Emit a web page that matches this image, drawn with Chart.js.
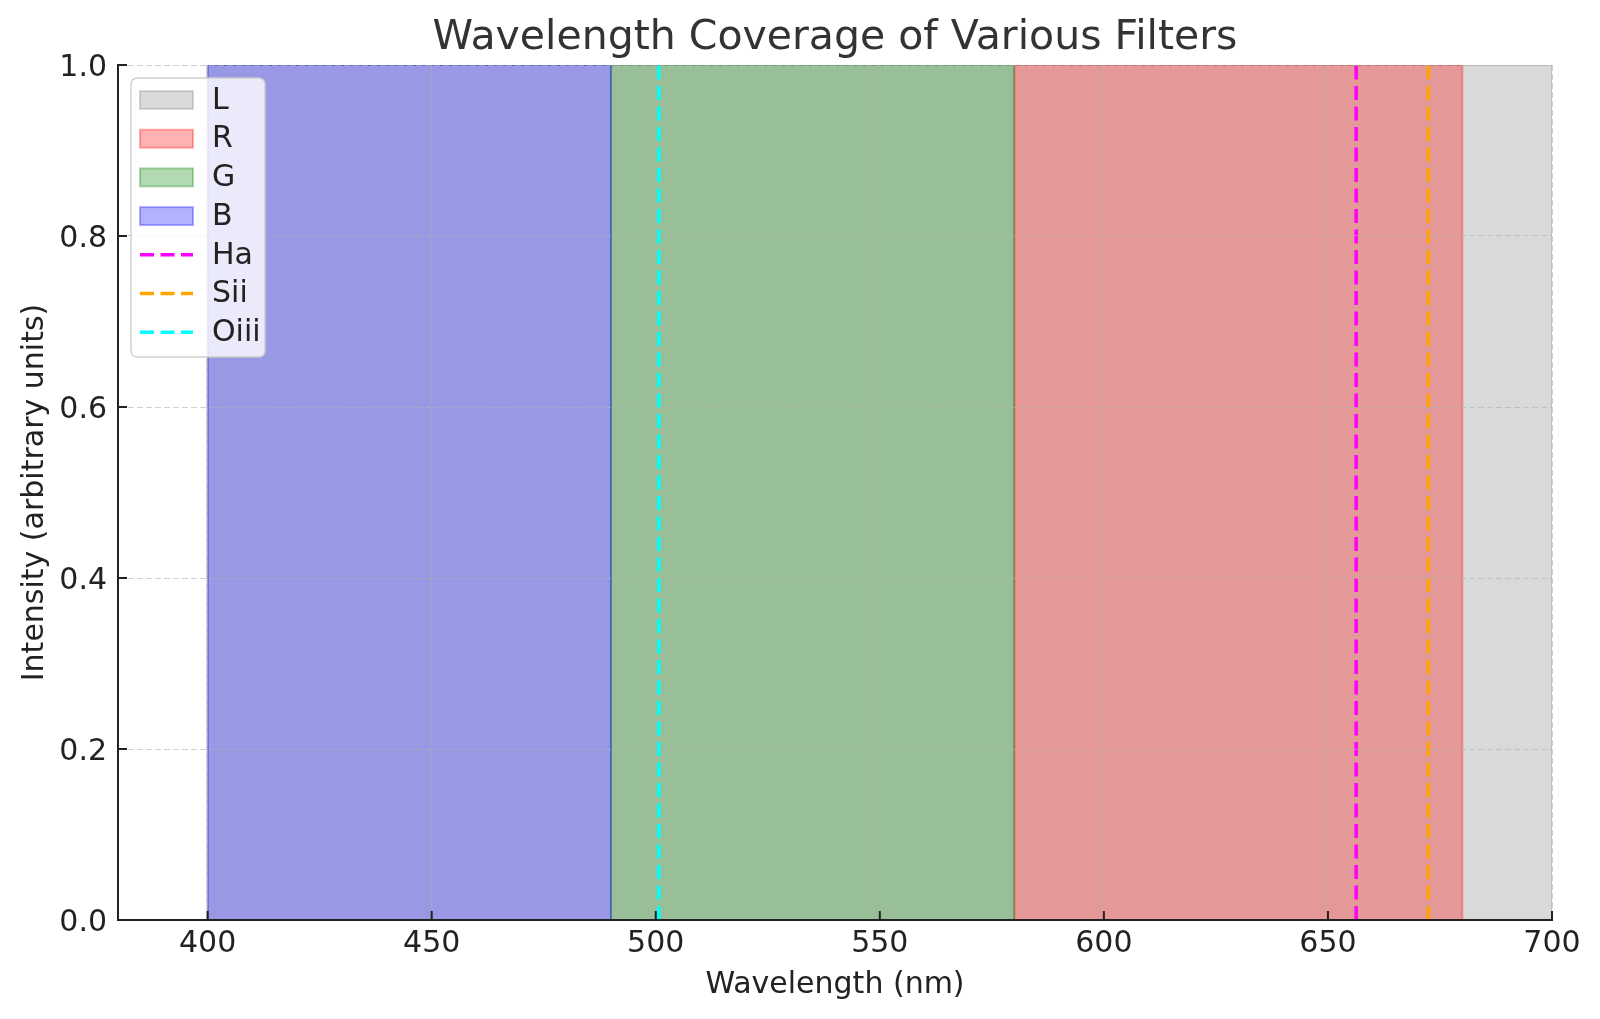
<!DOCTYPE html>
<html>
<head>
<meta charset="utf-8">
<title>Wavelength Coverage of Various Filters</title>
<script src="https://cdn.jsdelivr.net/npm/chart.js@4.4.0/dist/chart.umd.js"></script>
<style>
  html, body { margin: 0; padding: 0; background: #fff; }
  #wrap { width: 1600px; height: 1019px; }
</style>
</head>
<body>
<div id="wrap"><canvas id="chart" width="1600" height="1019"></canvas></div>
<script>
// filter pass bands (nm)
const filterNames = ['L', 'R', 'G', 'B'];
const filterStart = [400, 580, 490, 400];
const filterEnd = [700, 680, 580, 490];
const filterLevel = [1, 1, 1, 1];

// emission lines (nm)
const lineNames = ['Ha', 'Sii', 'Oiii'];
const lineWavelengths = [656.3, 672.4, 500.7];

const xTicks = [400, 450, 500, 550, 600, 650, 700];
const yTicks = [0, 0.2, 0.4, 0.6, 0.8, 1.0];

const filterRgb = ['128, 128, 128', '255, 0, 0', '0, 128, 0', '0, 0, 255'];
const lineColors = ['#ff00ff', '#ffa500', '#00ffff'];

Chart.defaults.font.family = '"DejaVu Sans", sans-serif';
Chart.defaults.color = '#222';

const datasets = [];
filterNames.forEach((name, i) => {
    datasets.push({
        label: name,
        kind: 'band',
        data: [
            { x: filterStart[i], y: 0 },
            { x: filterStart[i], y: filterLevel[i] },
            { x: filterEnd[i], y: filterLevel[i] },
            { x: filterEnd[i], y: 0 }
        ],
        fill: 'origin',
        backgroundColor: `rgba(${filterRgb[i]}, 0.3)`,
        borderColor: `rgba(${filterRgb[i]}, 0.3)`,
        borderWidth: 2,
        pointRadius: 0,
        tension: 0,
        order: 20 - i // first band at the bottom
    });
});
lineNames.forEach((name, i) => {
    datasets.push({
        label: name,
        kind: 'line',
        data: [
            { x: lineWavelengths[i], y: 0 },
            { x: lineWavelengths[i], y: 1 }
        ],
        fill: false,
        borderColor: lineColors[i],
        borderWidth: 3.5,
        borderDash: [14, 6.5],
        pointRadius: 0,
        order: 10 - i
    });
});

// inward tick marks + legend box inside the plot
const decorations = {
    id: 'decorations',
    afterDraw(chart) {
        const { ctx, chartArea, scales } = chart;
        ctx.save();
        ctx.strokeStyle = '#222';
        ctx.lineWidth = 2;
        ctx.setLineDash([]);
        xTicks.forEach(v => {
            const px = scales.x.getPixelForValue(v);
            ctx.beginPath();
            ctx.moveTo(px, chartArea.bottom);
            ctx.lineTo(px, chartArea.bottom - 9);
            ctx.stroke();
        });
        yTicks.forEach(v => {
            const py = scales.y.getPixelForValue(v);
            ctx.beginPath();
            ctx.moveTo(chartArea.left, py);
            ctx.lineTo(chartArea.left + 9, py);
            ctx.stroke();
        });

        // legend
        const bx = 131, by = 78, bw = 134, bh = 279;
        ctx.beginPath();
        ctx.roundRect(bx, by, bw, bh, 6);
        ctx.fillStyle = 'rgba(255, 255, 255, 0.8)';
        ctx.fill();
        ctx.strokeStyle = 'rgba(204, 204, 204, 0.9)';
        ctx.lineWidth = 1.5;
        ctx.stroke();

        const rowTop = 100, rowGap = 38.7;
        ctx.font = '30px "DejaVu Sans"';
        ctx.textBaseline = 'middle';
        ctx.textAlign = 'left';
        chart.data.datasets.forEach((ds, i) => {
            const y = rowTop + i * rowGap;
            if (ds.kind === 'band') {
                ctx.setLineDash([]);
                ctx.fillStyle = ds.backgroundColor;
                ctx.fillRect(140, y - 9, 53, 18);
                ctx.strokeStyle = ds.borderColor;
                ctx.lineWidth = 2;
                ctx.strokeRect(140, y - 9, 53, 18);
            } else {
                ctx.setLineDash([14, 6.5]);
                ctx.strokeStyle = ds.borderColor;
                ctx.lineWidth = 3.5;
                ctx.beginPath();
                ctx.moveTo(140, y);
                ctx.lineTo(193, y);
                ctx.stroke();
            }
            ctx.setLineDash([]);
            ctx.fillStyle = '#222';
            ctx.fillText(ds.label, 212, y + 1);
        });
        ctx.restore();
    }
};

new Chart(document.getElementById('chart'), {
    type: 'line',
    data: { datasets },
    plugins: [decorations],
    options: {
        responsive: false,
        animation: false,
        layout: { padding: { left: 0, right: 48, top: 0, bottom: 0 } },
        plugins: {
            legend: { display: false },
            tooltip: { enabled: false },
            title: {
                display: true,
                fullSize: false,
                text: 'Wavelength Coverage of Various Filters',
                color: '#333',
                font: { size: 41, weight: 'normal' },
                padding: { top: 14, bottom: 1.8 }
            }
        },
        scales: {
            x: {
                type: 'linear',
                min: 380,
                max: 700,
                afterBuildTicks: s => { s.ticks = xTicks.map(v => ({ value: v })); },
                afterFit: s => { s.height = 99; },
                ticks: {
                    autoSkip: false,
                    maxRotation: 0,
                    padding: 6,
                    color: '#222',
                    font: { size: 30 },
                    callback: v => String(v)
                },
                grid: {
                    drawTicks: false,
                    color: 'rgba(176, 176, 176, 0.6)',
                    lineWidth: 1,
                    z: 1
                },
                border: { display: true, color: '#222', width: 2, dash: [6, 3], z: 2 },
                title: {
                    display: true,
                    text: 'Wavelength (nm)',
                    color: '#222',
                    font: { size: 30 },
                    padding: { top: 0, bottom: 16 }
                }
            },
            y: {
                type: 'linear',
                min: 0,
                max: 1,
                afterBuildTicks: s => { s.ticks = yTicks.map(v => ({ value: v })); },
                afterFit: s => { s.width = 118; },
                ticks: {
                    padding: 11,
                    labelOffset: 3,
                    color: '#222',
                    font: { size: 30 },
                    callback: v => Number(v).toFixed(1)
                },
                grid: {
                    drawTicks: false,
                    color: 'rgba(176, 176, 176, 0.6)',
                    lineWidth: 1,
                    z: 1
                },
                border: { display: true, color: '#222', width: 2, dash: [6, 3], z: 2 },
                title: {
                    display: true,
                    text: 'Intensity (arbitrary units)',
                    color: '#222',
                    font: { size: 30 },
                    padding: { top: 17, bottom: 0 }
                }
            }
        }
    }
});
</script>
</body>
</html>
